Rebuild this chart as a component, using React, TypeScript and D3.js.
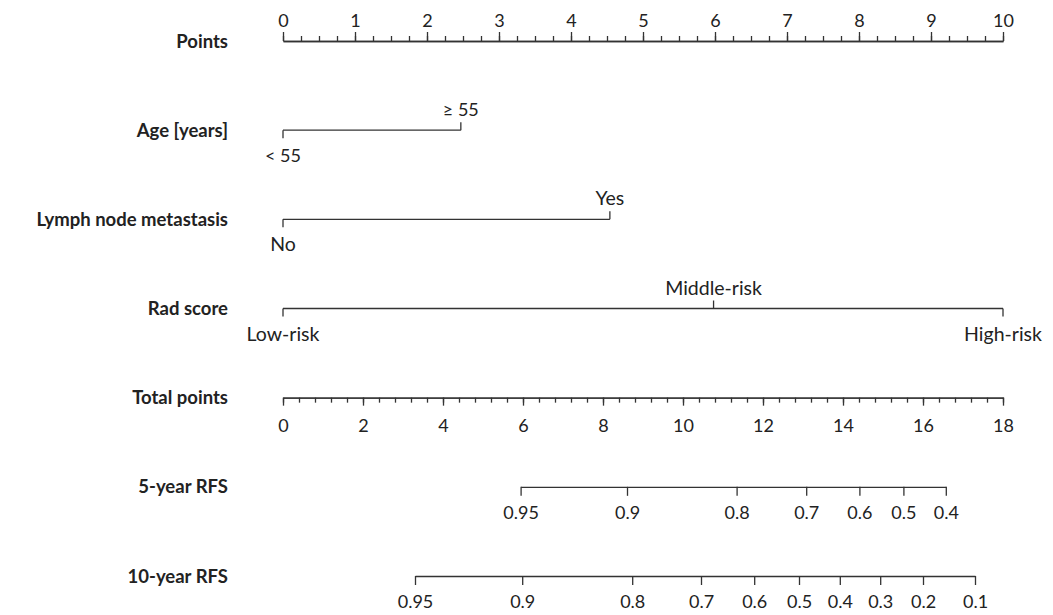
// Nomogram.tsx
import React, { useRef, useEffect } from "react";
import * as d3 from "d3";

const width = 1053;
const height = 615;
const ink = "#222";
const lineColor = "#333";
const font = "Lato, 'Noto Sans', sans-serif";

// filas del nomograma
const rowNames = [
  "Points",
  "Age [years]",
  "Lymph node metastasis",
  "Rad score",
  "Total points",
  "5-year RFS",
  "10-year RFS",
];

const pointsTicks = [0, 1, 2, 3, 4, 5, 6, 7, 8, 9, 10];
const totalTicks = [0, 2, 4, 6, 8, 10, 12, 14, 16, 18];

const ageLevels = ["< 55", "≥ 55"];
const agePoints = [0, 2.47];

const lymphLevels = ["No", "Yes"];
const lymphPoints = [0, 4.54];

const radLevels = ["Low-risk", "Middle-risk", "High-risk"];
const radPoints = [0, 5.98, 10];

const rfs5Probs = [0.95, 0.9, 0.8, 0.7, 0.6, 0.5, 0.4];
const rfs5Totals = [5.94, 8.6, 11.34, 13.08, 14.41, 15.51, 16.57];

const rfs10Probs = [0.95, 0.9, 0.8, 0.7, 0.6, 0.5, 0.4, 0.3, 0.2, 0.1];
const rfs10Totals = [3.3, 5.98, 8.73, 10.45, 11.78, 12.9, 13.92, 14.93, 16.0, 17.3];

const App: React.FC = () => {
  const ref = useRef<SVGSVGElement | null>(null);

  useEffect(() => {
    if (!ref.current) return;
    const svg = d3.select(ref.current);
    svg.selectAll("*").remove();

    const xLeft = 283;
    const xRight = 1003;

    const y = d3.scalePoint<string>().domain(rowNames).range([41, 576]);
    const xPoints = d3.scaleLinear().domain([0, 10]).range([xLeft, xRight]);
    const xTotal = d3.scaleLinear().domain([0, 18]).range([xLeft, xRight]);

    // etiquetas de fila
    svg
      .append("g")
      .selectAll("text")
      .data(rowNames)
      .join("text")
      .attr("x", 228)
      .attr("y", (d) => y(d)!)
      .attr("dy", "0.36em")
      .attr("text-anchor", "end")
      .attr("font-weight", "bold")
      .attr("font-size", 18.5)
      .attr("fill", ink)
      .text((d) => d);

    const styleAxis = (g: d3.Selection<SVGGElement, unknown, null, undefined>) => {
      g.attr("font-family", font).attr("font-size", 18);
      g.selectAll("path, line").attr("stroke", lineColor).attr("stroke-width", 1.3);
      g.selectAll("text").attr("fill", ink);
    };

    // eje de puntos
    const gPts = svg.append("g").attr("transform", `translate(0,${y("Points")})`);
    gPts
      .append("g")
      .call(
        d3.axisTop(xPoints).tickValues(d3.range(0, 10.001, 0.25)).tickSize(5).tickSizeOuter(0).tickFormat(() => "")
      )
      .call(styleAxis);
    gPts
      .append("g")
      .call(d3.axisTop(xPoints).tickValues(pointsTicks).tickSize(9).tickPadding(5).tickSizeOuter(0))
      .call(styleAxis);

    // variables categóricas
    const catRow = (name: string, levels: string[], pts: number[]) => {
      const g = svg.append("g").attr("transform", `translate(0,${y(name)})`);
      g.append("line")
        .attr("x1", xPoints(d3.min(pts)!))
        .attr("x2", xPoints(d3.max(pts)!))
        .attr("stroke", lineColor)
        .attr("stroke-width", 1.3);
      const t = g
        .selectAll("g")
        .data(levels.map((l, i) => ({ l, p: pts[i], up: i % 2 === 1 })))
        .join("g")
        .attr("transform", (d) => `translate(${xPoints(d.p)},0)`);
      t.append("line")
        .attr("y2", (d) => (d.up ? -8 : 8))
        .attr("stroke", lineColor)
        .attr("stroke-width", 1.3);
      t.append("text")
        .attr("y", (d) => (d.up ? -14 : 32))
        .attr("text-anchor", "middle")
        .attr("font-size", (d) => (/\d/.test(d.l) ? 18 : 19.5))
        .attr("fill", ink)
        .text((d) => d.l);
    };
    catRow("Age [years]", ageLevels, agePoints);
    catRow("Lymph node metastasis", lymphLevels, lymphPoints);
    catRow("Rad score", radLevels, radPoints);

    // puntos totales
    const gTot = svg.append("g").attr("transform", `translate(0,${y("Total points")})`);
    gTot
      .append("g")
      .call(
        d3.axisBottom(xTotal).tickValues(d3.range(0, 18.001, 0.4)).tickSize(5).tickSizeOuter(0).tickFormat(() => "")
      )
      .call(styleAxis);
    gTot
      .append("g")
      .call(d3.axisBottom(xTotal).tickValues(totalTicks).tickSize(8).tickPadding(14).tickSizeOuter(0))
      .call(styleAxis);

    // supervivencia libre de recurrencia
    const probRow = (name: string, probs: number[], totals: number[]) => {
      const t0 = totals[0];
      const t1 = totals[totals.length - 1];
      const sc = d3.scaleLinear().domain([t0, t1]).range([xTotal(t0), xTotal(t1)]);
      svg
        .append("g")
        .attr("transform", `translate(0,${y(name)})`)
        .call(
          d3
            .axisBottom(sc)
            .tickValues(totals)
            .tickSize(9)
            .tickPadding(10)
            .tickSizeOuter(0)
            .tickFormat((_d, i) => String(probs[i]))
        )
        .call(styleAxis);
    };
    probRow("5-year RFS", rfs5Probs, rfs5Totals);
    probRow("10-year RFS", rfs10Probs, rfs10Totals);
  }, []);

  return (
    <svg
      ref={ref}
      width={width}
      height={height}
      fontFamily={font}
      style={{ position: "absolute", left: 0, top: 0, background: "#fff" }}
    ></svg>
  );
};

export default App;
